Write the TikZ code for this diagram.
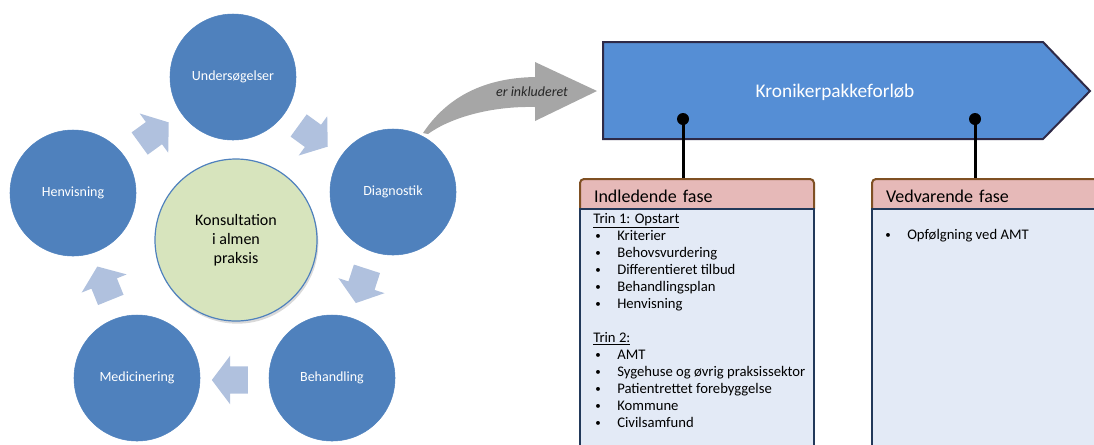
\documentclass[tikz,border=0pt]{standalone}
\usepackage{fontspec}
\setmainfont{Carlito}
\usepackage{tikz}
\usetikzlibrary{arrows.meta,positioning,calc,shapes.arrows,shadows}
\definecolor{stageblue}{HTML}{4F81BD}
\definecolor{hubgreen}{HTML}{D7E4BD}
\definecolor{cyclight}{HTML}{B0C1DE}
\definecolor{kpfblue}{HTML}{558ED5}
\definecolor{kpfline}{HTML}{2E2A48}
\definecolor{inclgray}{HTML}{A6A6A6}
\definecolor{headpink}{HTML}{E6B9B8}
\definecolor{headbrown}{HTML}{7F5023}
\definecolor{bodyblue}{HTML}{E3EAF6}
\definecolor{bodynavy}{HTML}{22395A}
\newcommand{\itm}{\hspace*{1.5pt}\makebox[16.5pt][l]{\raisebox{0.6pt}{\scalebox{0.75}{\textbullet}}}}
\tikzset{
  stage/.style={circle,fill=stageblue,draw=stageblue,minimum size=94.5pt,inner sep=0pt,
                text=white,font=\fontsize{10.5}{12.6}\selectfont},
  hub/.style={circle,fill=hubgreen,draw=stageblue,line width=0.9pt,minimum size=121.5pt,
              align=center,font=\fontsize{12}{14.3}\selectfont,
              drop shadow={opacity=0.3,shadow xshift=1pt,shadow yshift=-2pt}},
  cycarr/.style={single arrow,fill=cyclight,draw=none,inner xsep=0pt,inner ysep=10.1pt,
                 minimum height=27pt,single arrow head extend=7.9pt,single arrow tip angle=106},
  inclarr/.style={fill=inclgray,draw=none},
  kpfbox/.style={fill=kpfblue,draw=kpfline,line width=1.5pt},
  pindot/.style={circle,fill=black,inner sep=0pt,minimum size=9pt},
  stem/.style={line width=2.25pt,black},
  phasehead/.style={draw=headbrown,fill=headpink,line width=1.5pt,rounded corners=3pt,
                    anchor=north west,inner xsep=10.5pt,minimum height=25.5pt,align=left,
                    font=\fontsize{13.5}{16}\selectfont},
  phasebody/.style={draw=bodynavy,fill=bodyblue,line width=1.5pt,anchor=north west,inner sep=0pt},
  steplist/.style={anchor=north west,align=left,inner sep=0pt,font=\fontsize{11}{12.75}\selectfont},
}

\begin{document}
\begin{tikzpicture}[x=0.75pt,y=-0.75pt]
  \useasboundingbox (0,0) rectangle (1094,444);
  \clip (0,0) rectangle (1094,444);

  % "er inkluderet" arrow
  \path[inclarr] (423,133) .. controls (445,100) and (480,78) .. (535,77) -- (535,62) -- (597,91)
    -- (535,121) -- (535,107) .. controls (490,106) and (450,118) .. (428,134) -- cycle;
  \node[font=\fontsize{10.5}{12}\selectfont\itshape,text=black!85] (incl) at (532,92) {er inkluderet};

  % cycle
  \node[hub] (hub) at (236,240) {Konsultation\\i almen\\praksis};
  \node[stage] (us) at (233,77) {Undersøgelser};
  \node[stage] (dia) at (393,192) {Diagnostik};
  \node[stage] (beh) at (332,378) {Behandling};
  \node[stage] (med) at (137,378) {Medicinering};
  \node[stage] (hen) at (73,193) {Henvisning};
  \node[cycarr,rotate=-36] (a1) at (309,133) {};
  \node[cycarr,rotate=-108] (a2) at (363,281) {};
  \node[cycarr,rotate=180] (a3) at (235,380) {};
  \node[cycarr,rotate=112] (a4) at (106,288) {};
  \node[cycarr,rotate=36] (a5) at (150,136) {};

  % Kronikerpakkeforløb
  \path[kpfbox] (603,42) -- (1043,42) -- (1090,91) -- (1043,139) -- (603,139) -- cycle;
  \node[text=white,font=\fontsize{14.5}{17}\selectfont] (kpf) at (835,92) {Kronikerpakkeforløb};
  \node[pindot] (p1) at (683,119) {};
  \node[pindot] (p2) at (975,119) {};

  % phases
  \node[phasehead,text width=154.5pt] (ih) at (579,178) {Indledende fase};
  \node[phasehead,text width=190pt] (vh) at (871,178) {Vedvarende fase};
  \draw[stem] (p1.center) -- (p1 |- ih.north);
  \draw[stem] (p2.center) -- (p2 |- vh.north);
  \node[phasebody,minimum width=175.5pt,minimum height=200pt] (ib) at (579,208) {};
  \node[phasebody,minimum width=220pt,minimum height=200pt] (vb) at (871,208) {};
  \node[steplist] (il) at (593,213) {\underline{Trin 1: Opstart}\\
    \itm Kriterier\\ \itm Behovsvurdering\\ \itm Differentieret tilbud\\
    \itm Behandlingsplan\\ \itm Henvisning\\[12.75pt]
    \underline{Trin 2:}\\
    \itm AMT\\ \itm Sygehuse og øvrig praksissektor\\ \itm Patientrettet forebyggelse\\
    \itm Kommune\\ \itm Civilsamfund};
  \node[steplist] (vl) at (883,229) {\itm Opfølgning ved AMT};
\end{tikzpicture}
\end{document}
